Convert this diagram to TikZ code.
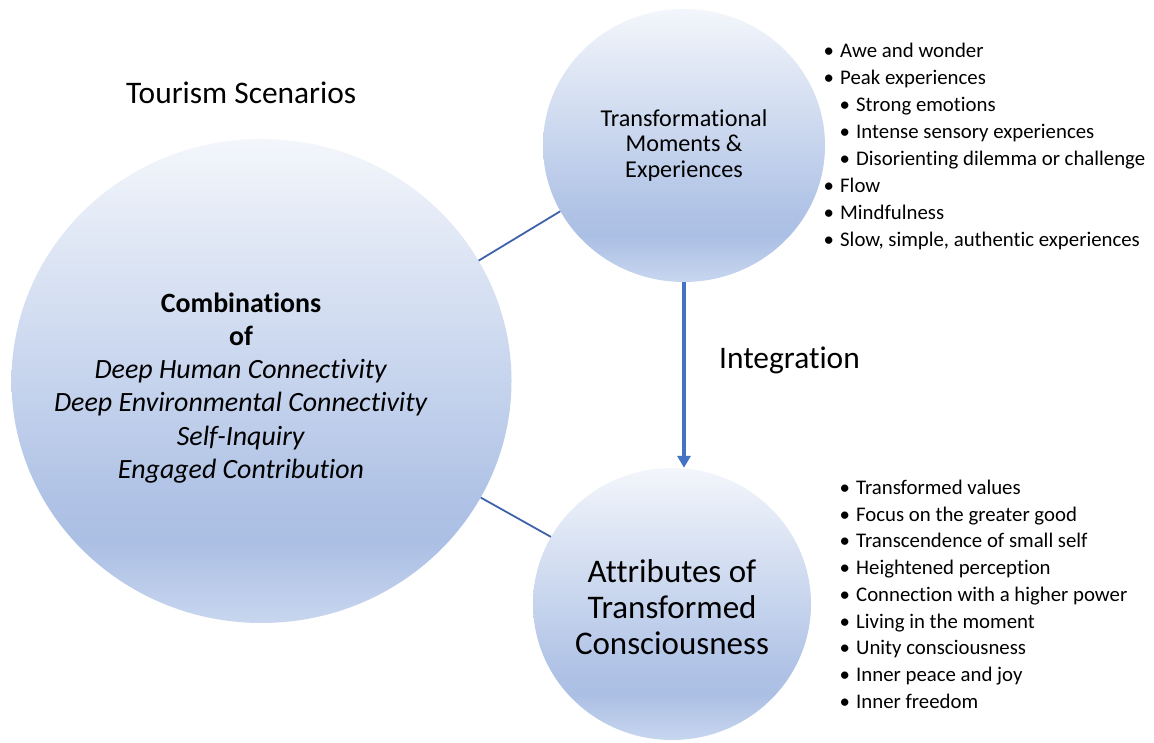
\documentclass[tikz,border=0pt]{standalone}
\usepackage{fontspec}
\setmainfont{Carlito}[Ligatures={NoCommon,NoRequired,NoContextual}]
\usetikzlibrary{shapes.geometric}
\usetikzlibrary{arrows.meta}

\definecolor{bubtop}{HTML}{F3F6FB}
\definecolor{bubmid}{HTML}{B0C3E6}
\definecolor{bubdark}{HTML}{ABBFE4}
\definecolor{bubbot}{HTML}{C8D6EF}
\definecolor{linkblue}{HTML}{3F63AB}
\definecolor{flowblue}{HTML}{4472C4}

% light at the top, darkest just above the bottom
\pgfdeclareverticalshading{bubble}{100bp}{color(0bp)=(bubbot); color(25bp)=(bubbot); color(33.5bp)=(bubdark); color(38bp)=(bubmid); color(75bp)=(bubtop); color(100bp)=(bubtop)}

\newcommand{\bl}{\makebox[23pt][c]{\textbullet}}

\tikzset{
  blob/.style={ellipse, inner sep=0pt, shade, shading=bubble, align=center},
  link/.style={draw=linkblue, line width=1.8pt},
  flow/.style={draw=flowblue, line width=3.6pt, -{Triangle[length=12pt,width=13pt]}},
  bul/.style={anchor=base west, inner sep=0pt, font=\fontsize{20.8}{24}\selectfont},
  head/.style={anchor=base west, inner sep=0pt, font=\fontsize{31.4}{36}\selectfont}
}

\begin{document}
\begin{tikzpicture}[x=1pt, y=1pt]
\fill [white] (0,0) rectangle (1154,743);
\useasboundingbox (0,0) rectangle (1154,743);

% the three bubbles
\node [blob, minimum width=500pt, minimum height=484pt] (scen) at (261.5,362) {};
\node [blob, minimum width=282pt, minimum height=273pt, font=\fontsize{24.2}{25.4}\selectfont] (moment) at (684,597.5) {Transformational\\Moments \&\\Experiences};
\node [blob, minimum width=278pt, minimum height=272pt] (attr) at (672,139) {};
\node [align=center, inner sep=0pt, font=\fontsize{33}{36.2}\selectfont] (attrtxt) at (672,136) {Attributes of\\Transformed\\Consciousness};
\node [align=center, inner sep=0pt, font=\fontsize{27.9}{33.2}\selectfont] (scentxt) at (241,355) {\textbf{Combinations}\\\textbf{of}\\\textit{Deep Human Connectivity}\\\textit{Deep Environmental Connectivity}\\\textit{Self-Inquiry}\\\textit{Engaged Contribution}};

% connectors
\draw [link] (scen.29.6) -- (moment.208.5);
\draw [link] (scen.-28.6) -- (attr.151.6);
\draw [flow] (moment.south) -- (moment.south |- attr.north);

\node [head] (tour) at (126,639) {Tourism Scenarios};
\node [head] (integ) at (719,374) {Integration};

% lists beside the bubbles
\foreach \lv/\txt [count=\i] in {0/Awe and wonder, 0/Peak experiences, 1/Strong emotions, 1/Intense sensory experiences, 1/Disorienting dilemma or challenge, 0/Flow, 0/Mindfulness, {0/Slow, simple, authentic experiences}}
  \node [bul] (tm\i) at ({817+16*\lv}, {685-26.9*(\i-1)}) {\bl\txt};
\foreach \txt [count=\i] in {Transformed values, Focus on the greater good, Transcendence of small self, Heightened perception, Connection with a higher power, Living in the moment, Unity consciousness, Inner peace and joy, Inner freedom}
  \node [bul] (ta\i) at (833, {248.5-26.75*(\i-1)}) {\bl\txt};
\end{tikzpicture}
\end{document}
